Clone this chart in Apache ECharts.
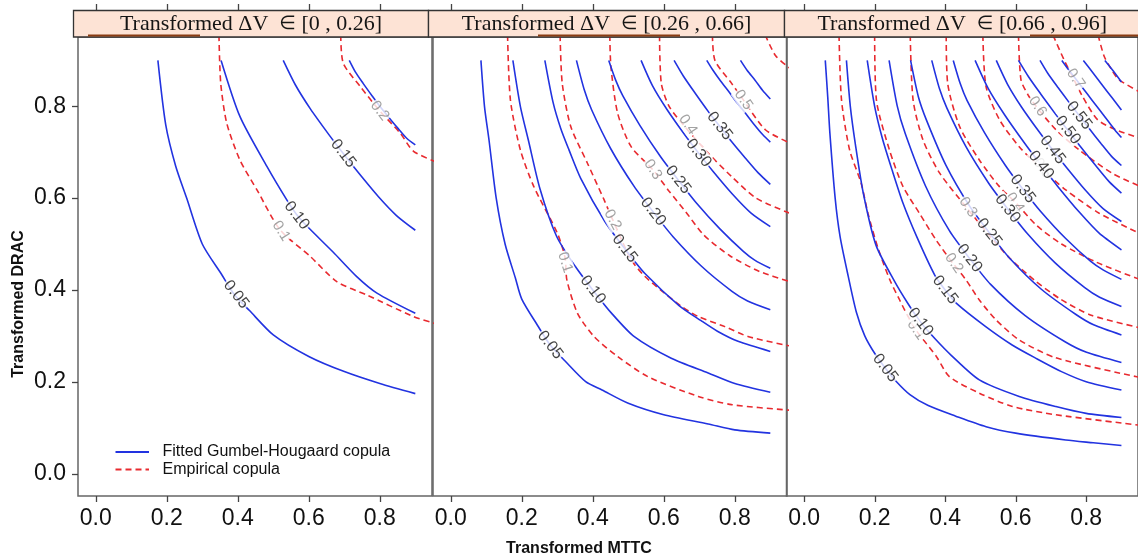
<!DOCTYPE html>
<html>
<head>
<meta charset="utf-8">
<script src="https://cdn.jsdelivr.net/npm/echarts@6/dist/echarts.min.js"></script>
<style>
  html, body { margin: 0; padding: 0; background: #fff; }
  #chart { width: 1138px; height: 559px; }
</style>
</head>
<body>
<div id="chart"></div>
<script>
// conditioning strips
const stripRanges = ['[0 , 0.26]', '[0.26 , 0.66]', '[0.66 , 0.96]'];
const xTicks = [0, 0.2, 0.4, 0.6, 0.8];
const yTicks = [0, 0.2, 0.4, 0.6, 0.8];

// ---- panel 1 : ΔV in [0, 0.26]
const fitLevels1 = ['0.05', '0.10', '0.15', '0.20'];
const fit1 = [
  [[0.175,0.9],[0.197,0.76],[0.225,0.67],[0.256,0.6],[0.3,0.5],[0.355,0.433],[0.39,0.39],[0.433,0.355],[0.5,0.302],[0.6,0.255],[0.7,0.222],[0.8,0.196],[0.9,0.174]],
  [[0.353,0.9],[0.406,0.778],[0.482,0.669],[0.538,0.596],[0.565,0.565],[0.596,0.538],[0.669,0.482],[0.735,0.429],[0.792,0.393],[0.9,0.349]],
  [[0.528,0.9],[0.562,0.847],[0.604,0.795],[0.655,0.74],[0.697,0.697],[0.74,0.655],[0.795,0.604],[0.847,0.562],[0.9,0.53]],
  [[0.714,0.9],[0.731,0.875],[0.753,0.85],[0.779,0.822],[0.8,0.8],[0.822,0.779],[0.85,0.753],[0.875,0.731],[0.9,0.716]]
];
const empLevels1 = ['0.1', '0.2'];
const emp1 = [
  [[0.347,0.955],[0.352,0.85],[0.369,0.763],[0.406,0.683],[0.454,0.618],[0.519,0.531],[0.604,0.473],[0.679,0.418],[0.763,0.389],[0.895,0.342],[0.955,0.327]],
  [[0.69,0.955],[0.697,0.894],[0.745,0.843],[0.8,0.79],[0.857,0.742],[0.895,0.702],[0.955,0.68]]
];

// ---- panel 2 : ΔV in [0.26, 0.66]
const fitLevels2 = ['0.05', '0.10', '0.15', '0.20', '0.25', '0.30', '0.35', '0.40', '0.45'];
const fit2 = [
  [[0.085,0.9],[0.095,0.8],[0.108,0.725],[0.128,0.6],[0.153,0.5],[0.182,0.426],[0.2,0.38],[0.245,0.322],[0.28,0.28],[0.322,0.245],[0.38,0.2],[0.426,0.182],[0.5,0.153],[0.6,0.128],[0.725,0.108],[0.8,0.095],[0.9,0.088]],
  [[0.175,0.9],[0.196,0.8],[0.219,0.725],[0.251,0.621],[0.298,0.517],[0.35,0.452],[0.4,0.4],[0.452,0.35],[0.517,0.298],[0.621,0.251],[0.725,0.219],[0.8,0.196],[0.9,0.177]],
  [[0.265,0.9],[0.288,0.809],[0.31,0.751],[0.333,0.705],[0.366,0.643],[0.434,0.549],[0.49,0.49],[0.549,0.434],[0.643,0.366],[0.705,0.333],[0.751,0.31],[0.809,0.288],[0.9,0.266]],
  [[0.354,0.9],[0.376,0.836],[0.397,0.792],[0.451,0.707],[0.516,0.626],[0.57,0.57],[0.626,0.516],[0.707,0.451],[0.792,0.397],[0.836,0.376],[0.9,0.357]],
  [[0.445,0.9],[0.465,0.856],[0.484,0.824],[0.533,0.758],[0.591,0.69],[0.64,0.64],[0.69,0.591],[0.758,0.533],[0.824,0.484],[0.856,0.465],[0.9,0.447]],
  [[0.536,0.9],[0.568,0.845],[0.609,0.793],[0.658,0.739],[0.698,0.698],[0.739,0.658],[0.793,0.609],[0.845,0.568],[0.9,0.538]],
  [[0.629,0.9],[0.655,0.866],[0.687,0.83],[0.725,0.789],[0.757,0.757],[0.789,0.725],[0.83,0.687],[0.866,0.655],[0.9,0.63]],
  [[0.721,0.9],[0.738,0.879],[0.76,0.855],[0.786,0.829],[0.807,0.807],[0.829,0.786],[0.855,0.76],[0.879,0.738],[0.9,0.722]],
  [[0.816,0.9],[0.835,0.878],[0.857,0.857],[0.878,0.835],[0.9,0.816]]
];
const empLevels2 = ['0.1', '0.2', '0.3', '0.4', '0.5', '0.6'];
const emp2 = [
  [[0.16,0.955],[0.168,0.814],[0.196,0.705],[0.234,0.625],[0.3,0.524],[0.322,0.47],[0.327,0.422],[0.357,0.349],[0.404,0.298],[0.47,0.255],[0.555,0.211],[0.697,0.168],[0.791,0.15],[0.955,0.138]],
  [[0.308,0.955],[0.314,0.85],[0.338,0.756],[0.385,0.676],[0.432,0.596],[0.456,0.553],[0.508,0.466],[0.546,0.43],[0.602,0.393],[0.65,0.364],[0.697,0.342],[0.772,0.32],[0.839,0.298],[0.955,0.278]],
  [[0.448,0.955],[0.451,0.887],[0.47,0.785],[0.508,0.712],[0.569,0.662],[0.615,0.615],[0.662,0.57],[0.712,0.52],[0.785,0.475],[0.87,0.44],[0.955,0.418]],
  [[0.588,0.955],[0.593,0.85],[0.615,0.8],[0.66,0.755],[0.725,0.698],[0.791,0.647],[0.86,0.6],[0.955,0.567]],
  [[0.737,0.955],[0.744,0.9],[0.791,0.85],[0.824,0.814],[0.886,0.749],[0.955,0.72]],
  [[0.886,0.955],[0.915,0.91],[0.955,0.883]]
];

// ---- panel 3 : ΔV in [0.66, 0.96]
const fitLevels3 = ['0.05', '0.10', '0.15', '0.20', '0.25', '0.30', '0.35', '0.40', '0.45', '0.50', '0.55', '0.60', '0.65', '0.70'];
const fit3 = [
  [[0.06,0.9],[0.067,0.82],[0.073,0.742],[0.088,0.6],[0.102,0.516],[0.125,0.43],[0.148,0.352],[0.172,0.3],[0.2,0.262],[0.23,0.23],[0.262,0.2],[0.3,0.172],[0.352,0.148],[0.43,0.125],[0.516,0.102],[0.6,0.088],[0.742,0.073],[0.82,0.067],[0.9,0.061]],
  [[0.12,0.9],[0.131,0.8],[0.146,0.714],[0.168,0.61],[0.204,0.497],[0.257,0.418],[0.293,0.372],[0.33,0.33],[0.372,0.293],[0.418,0.257],[0.497,0.204],[0.61,0.168],[0.714,0.146],[0.8,0.131],[0.9,0.122]],
  [[0.179,0.9],[0.2,0.8],[0.222,0.73],[0.25,0.66],[0.28,0.59],[0.32,0.515],[0.37,0.433],[0.4,0.4],[0.433,0.37],[0.515,0.32],[0.59,0.28],[0.66,0.25],[0.73,0.222],[0.8,0.2],[0.9,0.182]],
  [[0.241,0.9],[0.264,0.801],[0.287,0.74],[0.344,0.627],[0.412,0.529],[0.469,0.469],[0.529,0.412],[0.627,0.344],[0.74,0.287],[0.801,0.264],[0.9,0.242]],
  [[0.302,0.9],[0.324,0.821],[0.347,0.77],[0.402,0.672],[0.469,0.583],[0.525,0.525],[0.583,0.469],[0.672,0.402],[0.77,0.347],[0.821,0.324],[0.9,0.302]],
  [[0.362,0.9],[0.384,0.838],[0.405,0.796],[0.459,0.712],[0.523,0.633],[0.577,0.577],[0.633,0.523],[0.712,0.459],[0.796,0.405],[0.838,0.384],[0.9,0.364]],
  [[0.423,0.9],[0.443,0.849],[0.462,0.813],[0.512,0.742],[0.571,0.671],[0.62,0.62],[0.671,0.571],[0.742,0.512],[0.813,0.462],[0.849,0.443],[0.9,0.423]],
  [[0.485,0.9],[0.522,0.839],[0.569,0.781],[0.625,0.72],[0.672,0.672],[0.72,0.625],[0.781,0.569],[0.839,0.522],[0.9,0.487]],
  [[0.545,0.9],[0.577,0.848],[0.617,0.798],[0.665,0.746],[0.705,0.705],[0.746,0.665],[0.798,0.617],[0.848,0.577],[0.9,0.549]],
  [[0.608,0.9],[0.636,0.865],[0.671,0.827],[0.713,0.783],[0.748,0.748],[0.783,0.713],[0.827,0.671],[0.865,0.636],[0.9,0.611]],
  [[0.669,0.9],[0.691,0.872],[0.719,0.842],[0.752,0.808],[0.78,0.78],[0.808,0.752],[0.842,0.719],[0.872,0.691],[0.9,0.671]],
  [[0.731,0.9],[0.748,0.882],[0.769,0.861],[0.794,0.836],[0.815,0.815],[0.836,0.794],[0.861,0.769],[0.882,0.748],[0.9,0.732]],
  [[0.792,0.9],[0.819,0.873],[0.846,0.846],[0.873,0.819],[0.9,0.792]],
  [[0.853,0.9],[0.877,0.877],[0.9,0.853]]
];
const empLevels3 = ['0.1', '0.2', '0.3', '0.4', '0.5', '0.6', '0.7', '0.8'];
const emp3 = [
  [[0.099,0.955],[0.106,0.814],[0.129,0.705],[0.162,0.632],[0.181,0.567],[0.21,0.49],[0.243,0.422],[0.271,0.378],[0.29,0.349],[0.32,0.31],[0.375,0.255],[0.412,0.211],[0.497,0.175],[0.591,0.146],[0.714,0.128],[0.955,0.105]],
  [[0.2,0.955],[0.205,0.814],[0.242,0.705],[0.28,0.626],[0.327,0.567],[0.374,0.509],[0.422,0.458],[0.459,0.422],[0.497,0.378],[0.544,0.335],[0.61,0.291],[0.714,0.252],[0.955,0.209]],
  [[0.301,0.955],[0.309,0.814],[0.337,0.727],[0.384,0.655],[0.459,0.581],[0.522,0.522],[0.582,0.47],[0.655,0.42],[0.727,0.38],[0.814,0.345],[0.955,0.317]],
  [[0.403,0.955],[0.407,0.851],[0.441,0.756],[0.497,0.683],[0.554,0.625],[0.6,0.59],[0.66,0.54],[0.73,0.5],[0.83,0.46],[0.955,0.422]],
  [[0.507,0.955],[0.516,0.843],[0.554,0.771],[0.61,0.712],[0.676,0.662],[0.742,0.618],[0.837,0.567],[0.955,0.522]],
  [[0.608,0.955],[0.615,0.858],[0.635,0.825],[0.658,0.8],[0.714,0.749],[0.78,0.705],[0.874,0.654],[0.955,0.625]],
  [[0.706,0.955],[0.738,0.9],[0.761,0.865],[0.79,0.821],[0.832,0.771],[0.884,0.749],[0.955,0.73]],
  [[0.834,0.955],[0.851,0.909],[0.872,0.88],[0.893,0.858],[0.955,0.83]]
];

// where the contour labels sit on their curve: [x, y, angle]
const fitSpots1 = [[0.395,0.39,-52],[0.566,0.562,-52],[0.697,0.697,-52]];
const empSpots1 = [[0.522,0.528,-58],[0.8,0.79,-52]];
const fitSpots2 = [[0.28,0.28,-52],[0.4,0.4,-52],[0.49,0.49,-52],[0.57,0.57,-52],[0.64,0.64,-52],[0.698,0.698,-52],[0.757,0.757,-52]];
const empSpots2 = [[0.322,0.46,-72],[0.456,0.553,-62],[0.569,0.662,-58],[0.668,0.76,-55],[0.824,0.814,-55]];
const fitSpots3 = [[0.23,0.23,-52],[0.33,0.33,-52],[0.4,0.4,-52],[0.469,0.469,-52],[0.525,0.525,-52],[0.577,0.577,-52],[0.62,0.62,-52],[0.672,0.672,-52],[0.705,0.705,-52],[0.748,0.748,-52],[0.78,0.78,-52]];
const empSpots3 = [[0.318,0.313,-55],[0.425,0.458,-55],[0.465,0.58,-55],[0.598,0.59,-55],[0.676,0.665,-55],[0.662,0.8,-55],[0.77,0.86,-55]];

const BLUE = '#2233e0';
const RED = '#e82a2f';
const gridLefts = [78, 433, 786.5];

const series = [];
function addPanel(p, fit, fitLv, fitSpots, emp, empLv, empSpots) {
  fit.forEach(pts => series.push({
    type: 'line', name: 'Fitted Gumbel-Hougaard copula', xAxisIndex: p, yAxisIndex: p, data: pts,
    symbol: 'none', smooth: 0.25, silent: true, z: 3,
    lineStyle: { color: BLUE, width: 1.6 }
  }));
  emp.forEach(pts => series.push({
    type: 'line', name: 'Empirical copula', xAxisIndex: p, yAxisIndex: p, data: pts,
    symbol: 'none', smooth: 0.25, silent: true, z: 2,
    lineStyle: { color: RED, width: 1.6, type: [6, 4] }
  }));
  series.push({
    type: 'scatter', xAxisIndex: p, yAxisIndex: p, symbolSize: 0, silent: true, z: 6,
    data: empSpots.map((s, i) => ({
      value: [s[0], s[1]],
      label: { show: true, position: 'inside', formatter: empLv[i], rotate: s[2], color: '#8c8c8c',
               fontSize: 15, fontFamily: 'Liberation Sans', backgroundColor: '#fff', padding: [0, 1] }
    }))
  });
  series.push({
    type: 'scatter', xAxisIndex: p, yAxisIndex: p, symbolSize: 0, silent: true, z: 7,
    data: fitSpots.map((s, i) => ({
      value: [s[0], s[1]],
      label: { show: true, position: 'inside', formatter: fitLv[i], rotate: s[2], color: '#111',
               fontSize: 16, fontFamily: 'Liberation Sans', backgroundColor: '#fff', padding: [0, 1] }
    }))
  });
}
addPanel(0, fit1, fitLevels1, fitSpots1, emp1, empLevels1, empSpots1);
addPanel(1, fit2, fitLevels2, fitSpots2, emp2, empLevels2, empSpots2);
addPanel(2, fit3, fitLevels3, fitSpots3, emp3, empLevels3, empSpots3);

const grids = gridLefts.map(l => ({
  left: l, top: 37, width: 354, height: 459, show: true,
  borderColor: '#666', borderWidth: 1.5, backgroundColor: 'transparent'
}));

const xAxes = gridLefts.map((l, i) => ({
  type: 'value', gridIndex: i, min: -0.05, max: 0.947, position: 'bottom',
  axisLine: { show: false, onZero: false }, splitLine: { show: false }, axisTick: { show: false },
  axisLabel: { customValues: xTicks, formatter: v => v.toFixed(1), fontSize: 23,
               fontFamily: 'Liberation Sans', color: '#111', margin: 11 }
}));
const yAxes = gridLefts.map((l, i) => ({
  type: 'value', gridIndex: i, min: -0.049, max: 0.951, position: 'left',
  axisLine: { show: false, onZero: false }, splitLine: { show: false }, axisTick: { show: false },
  axisLabel: { show: i === 0, customValues: yTicks, formatter: v => v.toFixed(1), fontSize: 23,
               fontFamily: 'Liberation Sans', color: '#111', margin: 12 }
}));

// strips on top of each panel
const stripEdges = [73.5, 428.5, 784.5, 1140];
const shingleBars = [[88, 200], [538, 680], [1030, 1140]];
const graphic = [];
stripRanges.forEach((r, i) => {
  graphic.push({
    type: 'rect', shape: { x: stripEdges[i], y: 10.5, width: stripEdges[i + 1] - stripEdges[i], height: 26.5 },
    style: { fill: '#fde3d5', stroke: '#333', lineWidth: 1.3 }, z: 10
  });
  graphic.push({
    type: 'line', shape: { x1: shingleBars[i][0], y1: 35.5, x2: shingleBars[i][1], y2: 35.5 },
    style: { stroke: '#8a3c12', lineWidth: 2.2 }, z: 11
  });
  graphic.push({
    type: 'text', x: (stripEdges[i] + stripEdges[i + 1]) / 2, y: 24, z: 12,
    style: {
      text: '{a|Transformed ΔV  }{b|∈}{a| ' + r + '}',
      align: 'center', verticalAlign: 'middle',
      rich: {
        a: { font: '22px "Liberation Serif"', fill: '#151515' },
        b: { font: '19px "DejaVu Sans"', fill: '#151515' }
      }
    }
  });
});
// axis titles
graphic.push({
  type: 'text', x: 579, y: 549,
  style: { text: 'Transformed MTTC', font: 'bold 16px "Liberation Sans"', fill: '#111', align: 'center', verticalAlign: 'middle' }
});
graphic.push({
  type: 'text', x: 18.5, y: 304, rotation: Math.PI / 2,
  style: { text: 'Transformed DRAC', font: 'bold 16px "Liberation Sans"', fill: '#111', align: 'center', verticalAlign: 'middle' }
});
// key inside the first panel
graphic.push({ type: 'line', shape: { x1: 115.5, y1: 452, x2: 149, y2: 452 }, style: { stroke: BLUE, lineWidth: 2 }, z: 20 });
graphic.push({ type: 'line', shape: { x1: 115.5, y1: 469.5, x2: 149, y2: 469.5 }, style: { stroke: RED, lineWidth: 2, lineDash: [6, 4] }, z: 20 });
graphic.push({ type: 'text', x: 162.5, y: 452, z: 20,
  style: { text: 'Fitted Gumbel-Hougaard copula', font: '16px "Liberation Sans"', fill: '#111', verticalAlign: 'middle' } });
graphic.push({ type: 'text', x: 162.5, y: 469.5, z: 20,
  style: { text: 'Empirical copula', font: '16px "Liberation Sans"', fill: '#111', verticalAlign: 'middle' } });

const chart = echarts.init(document.getElementById('chart'), null, { renderer: 'canvas' });
chart.setOption({
  animation: false,
  backgroundColor: '#fff',
  grid: grids,
  xAxis: xAxes,
  yAxis: yAxes,
  graphic: graphic,
  series: series
});

// lattice-style tick marks: bottom and above the strips for every panel, left of the first one
const tickLine = { stroke: '#444', lineWidth: 1.3 };
const ticks = [];
gridLefts.forEach((l, g) => {
  xTicks.forEach(v => {
    const px = Math.round(chart.convertToPixel({ xAxisIndex: g }, v)) + 0.5;
    ticks.push({ type: 'line', shape: { x1: px, y1: 496, x2: px, y2: 502 }, style: tickLine });
    ticks.push({ type: 'line', shape: { x1: px, y1: 4, x2: px, y2: 10 }, style: tickLine });
  });
});
yTicks.forEach(v => {
  const py = Math.round(chart.convertToPixel({ yAxisIndex: 0 }, v)) + 0.5;
  ticks.push({ type: 'line', shape: { x1: 72, y1: py, x2: 78, y2: py }, style: tickLine });
});
chart.setOption({ graphic: graphic.concat(ticks) });
</script>
</body>
</html>
